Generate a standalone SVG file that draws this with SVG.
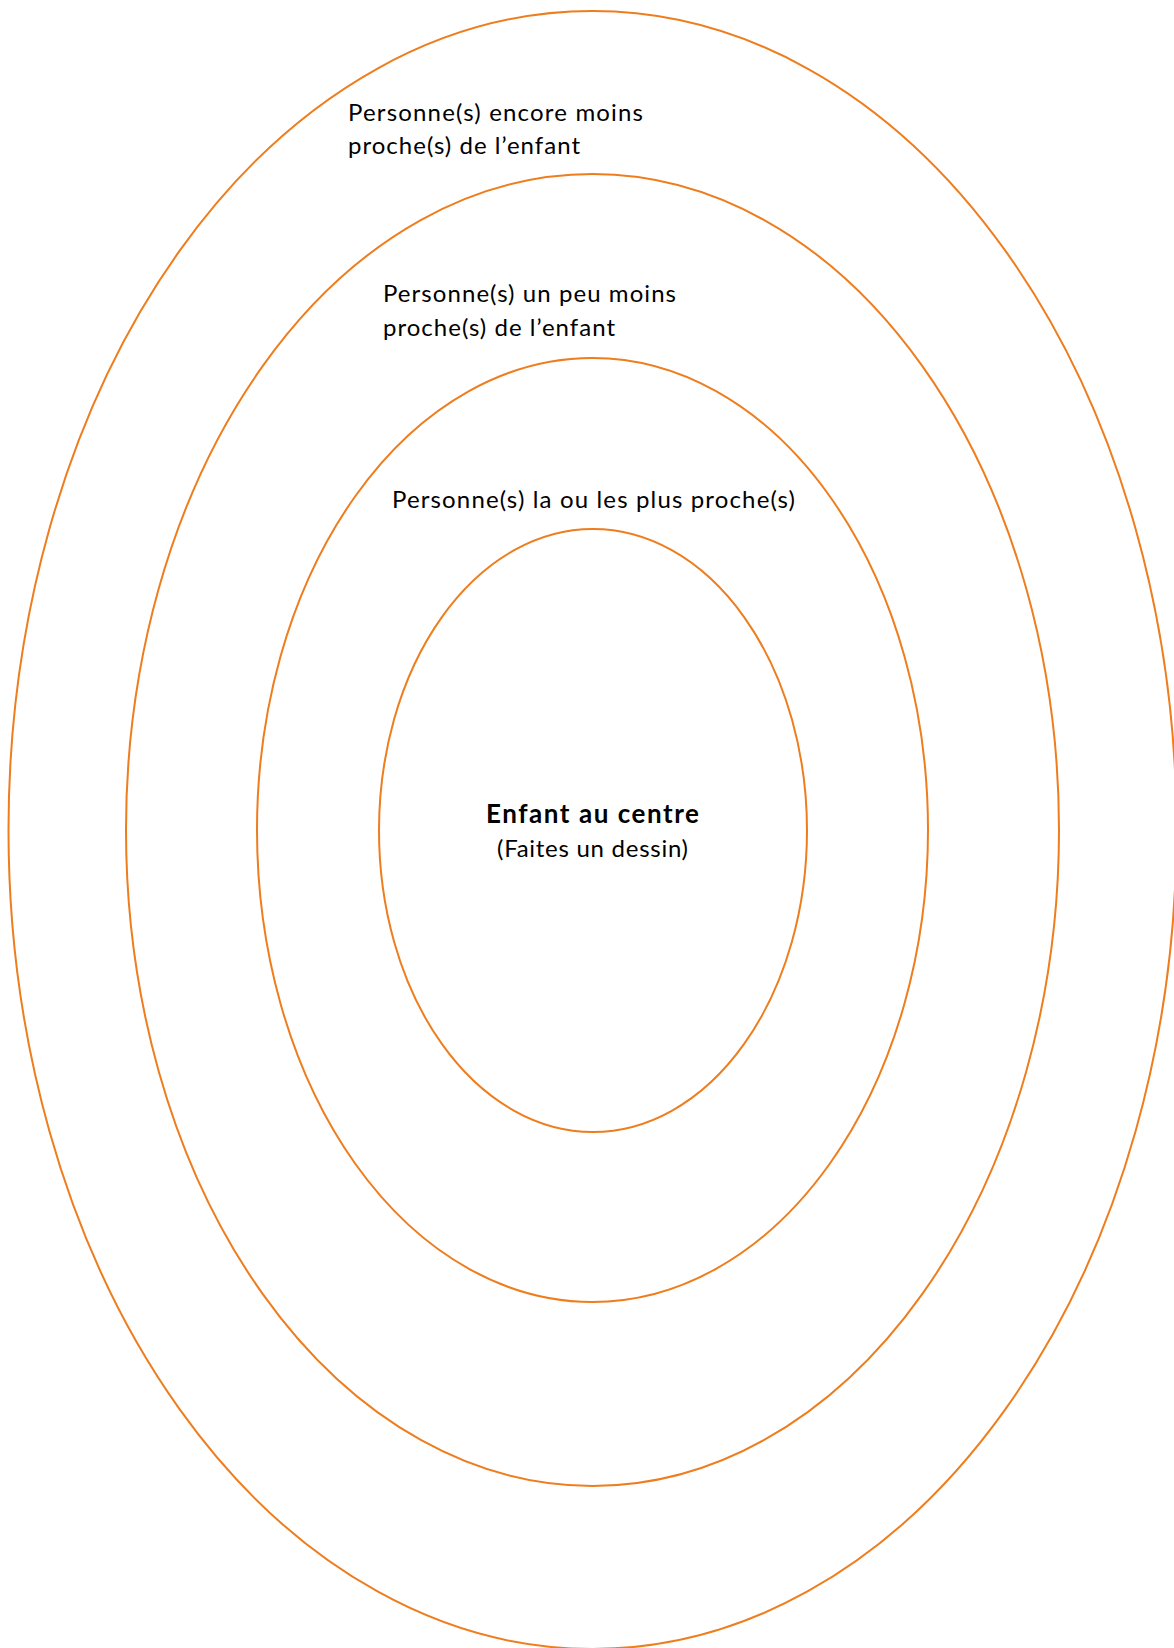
<svg xmlns="http://www.w3.org/2000/svg" width="1174" height="1648" viewBox="0 0 1174 1648">
<style>
.ring{fill:none;stroke:#EE7D1E;stroke-width:2}
.lbl{font-family:Lato,"Open Sans","Liberation Sans",sans-serif;font-size:24px;fill:#000}
.b{font-weight:bold;font-size:26px}
</style>
<rect width="1174" height="1648" fill="#fff"/>
<g id="ring-outer"><ellipse class="ring" cx="592.5" cy="830" rx="584" ry="819"/>
<text class="lbl" x="348" y="120.5" textLength="295" lengthAdjust="spacing">Personne(s) encore moins</text>
<text class="lbl" x="348" y="154" textLength="232" lengthAdjust="spacing">proche(s) de l’enfant</text></g>
<g id="ring-second"><ellipse class="ring" cx="592.5" cy="830" rx="466.5" ry="656"/>
<text class="lbl" x="383" y="302" textLength="293" lengthAdjust="spacing">Personne(s) un peu moins</text>
<text class="lbl" x="383" y="335.5" textLength="232" lengthAdjust="spacing">proche(s) de l’enfant</text></g>
<g id="ring-third"><ellipse class="ring" cx="592.5" cy="830" rx="335.5" ry="472"/>
<text class="lbl" x="392" y="507.5" textLength="403" lengthAdjust="spacing">Personne(s) la ou les plus proche(s)</text></g>
<g id="center"><ellipse class="ring" cx="593" cy="830.5" rx="214" ry="301.5"/>
<text class="lbl b" x="486" y="822.5" textLength="213" lengthAdjust="spacing">Enfant au centre</text>
<text class="lbl" x="497" y="856.5" textLength="191" lengthAdjust="spacing">(Faites un dessin)</text></g>
<g id="connectors"/>
</svg>
